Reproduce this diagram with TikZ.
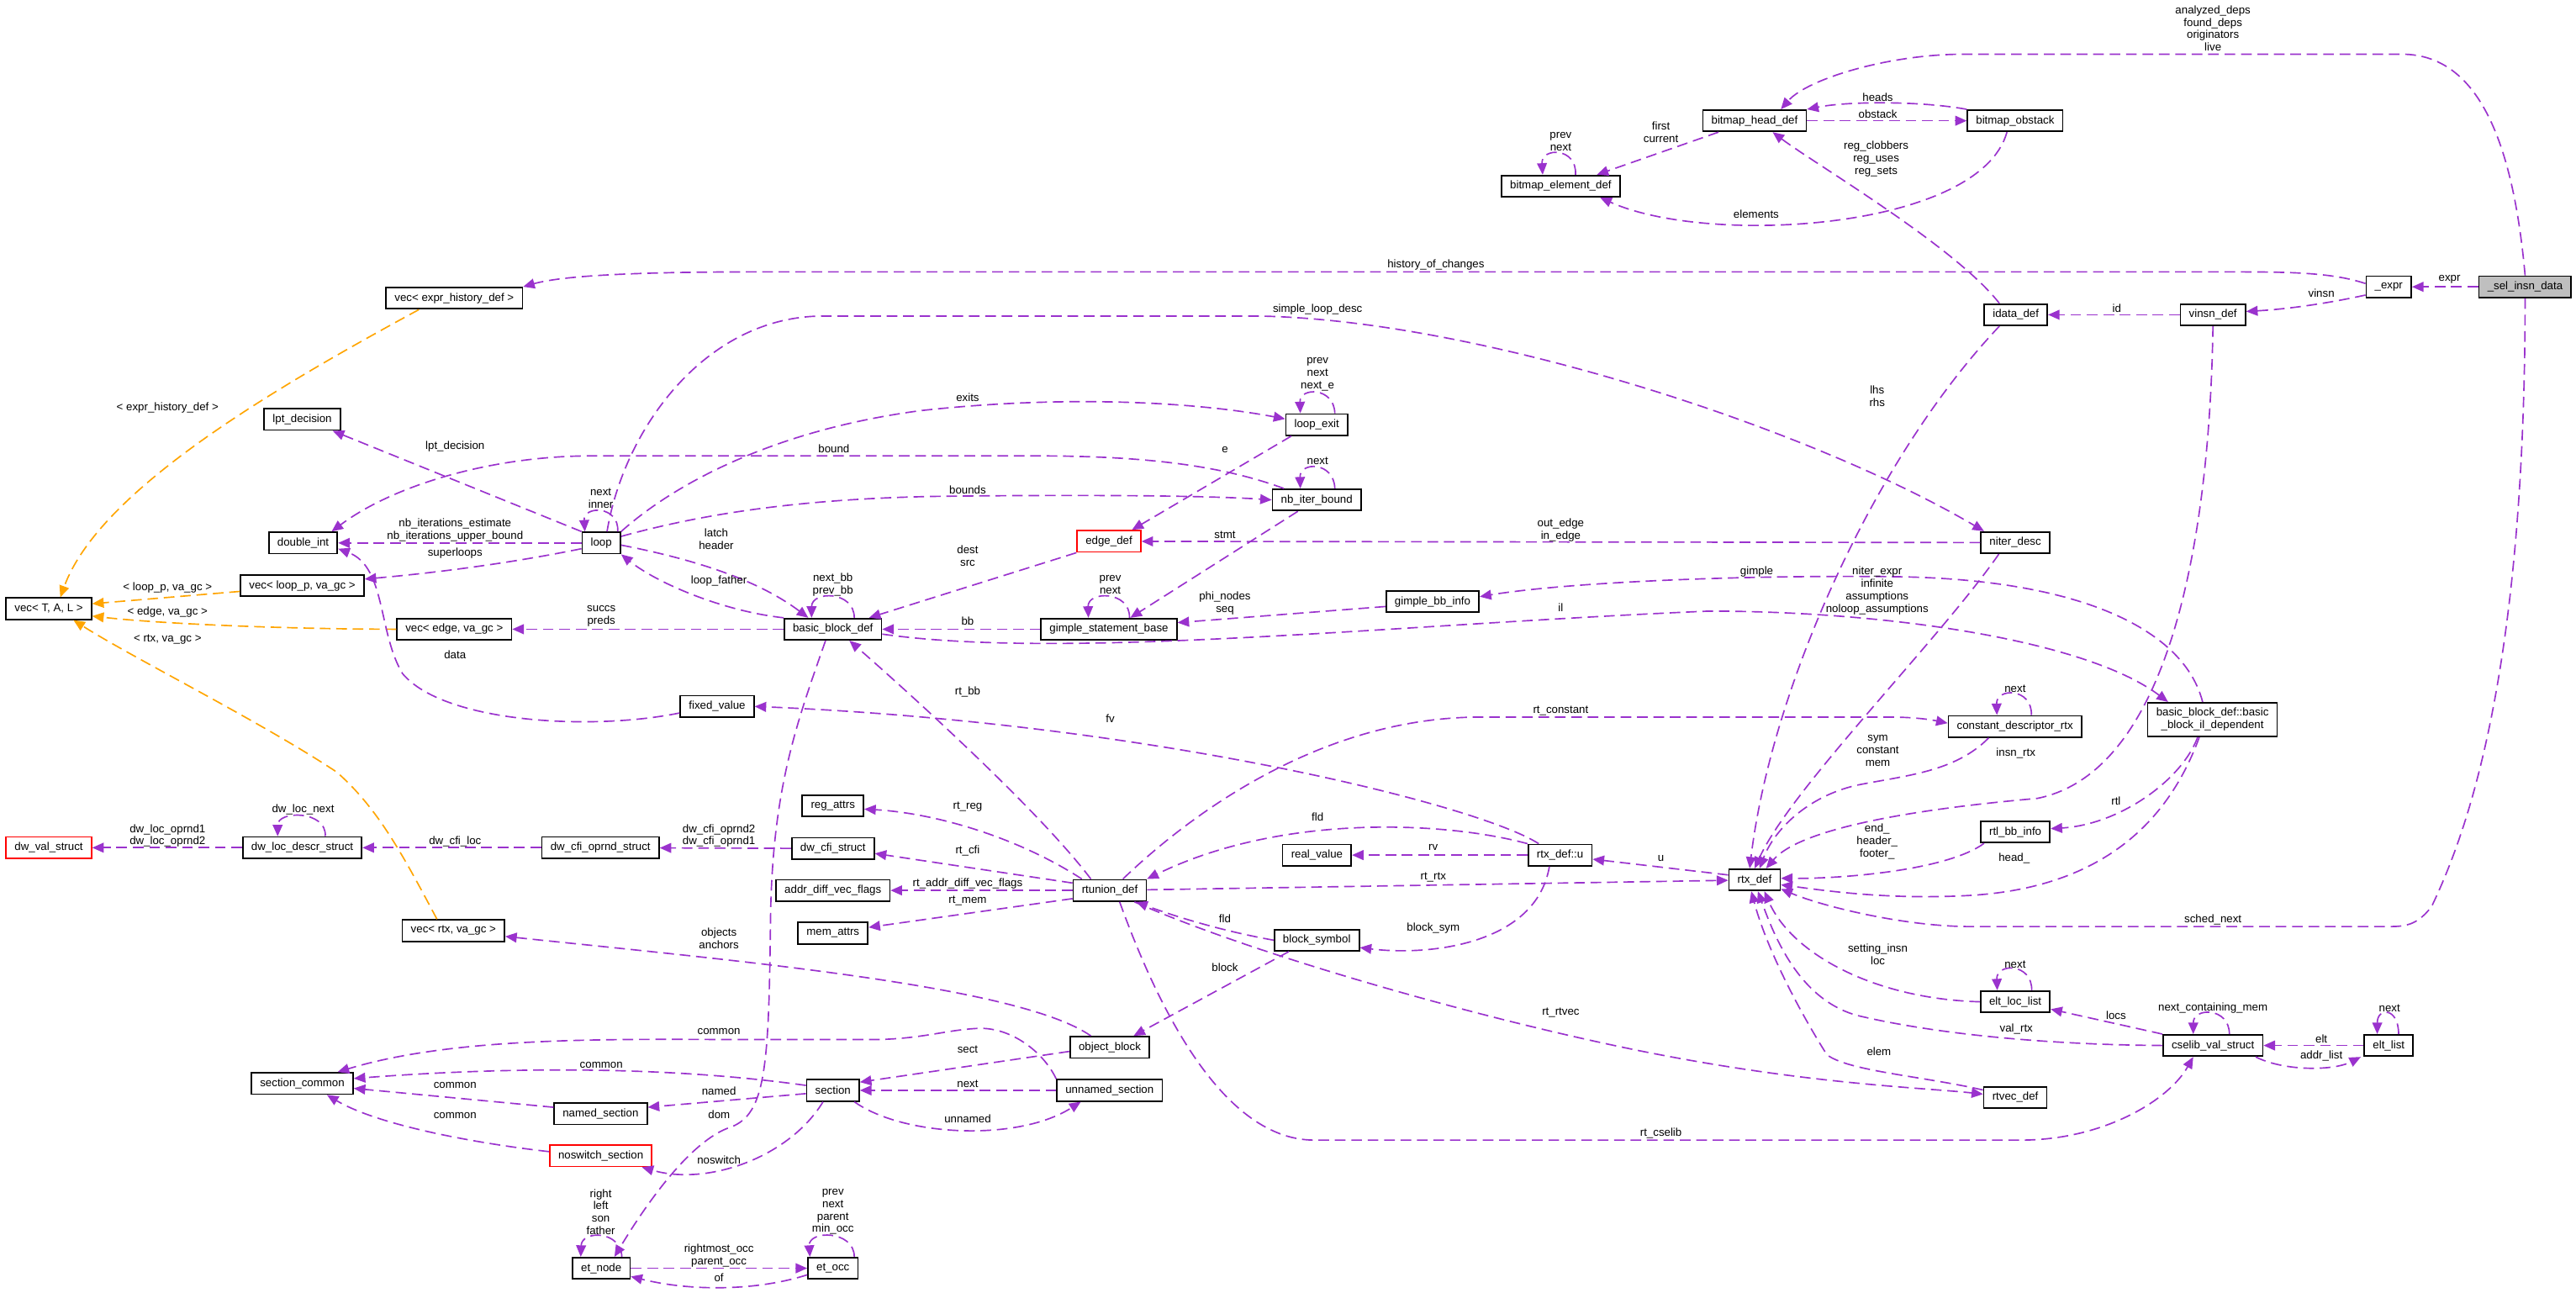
\documentclass[tikz,border=0pt]{standalone}
\usepackage{fontspec}
\setmainfont{Liberation Sans}
\usepackage{xcolor}
\usepackage{tikz}
\usetikzlibrary{arrows.meta, positioning}

\definecolor{relpurple}{RGB}{154,50,205}
\definecolor{tmplorange}{RGB}{255,165,0}
\newcommand{\graphfont}{\fontsize{6.8}{7.6}\selectfont}

\begin{document}
\begin{tikzpicture}[x=1pt, y=-1pt,
        cls/.style={rectangle, draw=black, line width=0.9pt, fill=white, font=\graphfont, inner xsep=5.2pt, inner ysep=2pt, minimum height=13pt, align=center},
        partial/.style={cls, draw=red},
        mainc/.style={cls, fill=gray!50},
        rel/.style={draw=relpurple, line width=0.85pt, dash pattern=on 6.5pt off 3.5pt, -{Triangle[length=7pt, width=6pt]}},
        tmpl/.style={rel, draw=tmplorange},
        lbl/.style={font=\graphfont, align=center, inner sep=0pt}
    ]
        \path[use as bounding box, fill=white] (0,0) rectangle (1568,787);

        % Classes
        \node[mainc] (sel) at (1537,174.6) {\_sel\_insn\_data};
        \node[cls] (expr) at (1454,174.6) {\_expr};
        \node[cls] (vinsn) at (1347,191.6) {vinsn\_def};
        \node[cls] (idata) at (1227,191.6) {idata\_def};
        \node[cls] (bhd) at (1068,73.5) {bitmap\_head\_def};
        \node[cls] (bo) at (1226.6,73.5) {bitmap\_obstack};
        \node[cls] (bed) at (950,113.3) {bitmap\_element\_def};
        \node[cls] (niter) at (1226.7,330.3) {niter\_desc};
        \node[cls] (cdr) at (1226.5,442.2) {constant\_descriptor\_rtx};
        \node[cls, inner ysep=3.3pt] (bbil) at (1346.7,438) {basic\_block\_def::basic\\\_block\_il\_dependent};
        \node[cls] (rtl) at (1226.7,506.4) {rtl\_bb\_info};
        \node[cls] (rtx) at (1068,535.6) {rtx\_def};
        \node[cls] (rtxu) at (949.6,520.5) {rtx\_def::u};
        \node[cls] (ell) at (1226.7,609.8) {elt\_loc\_list};
        \node[cls] (cvs) at (1347,636.4) {cselib\_val\_struct};
        \node[cls] (elt) at (1454,636.4) {elt\_list};
        \node[cls] (rtvec) at (1226.7,668) {rtvec\_def};
        \node[cls] (gbi) at (872,366.2) {gimple\_bb\_info};
        \node[cls] (lexit) at (801.5,258.5) {loop\_exit};
        \node[cls] (nib) at (801.5,304.3) {nb\_iter\_bound};
        \node[cls] (real) at (801.6,520.5) {real\_value};
        \node[cls] (bs) at (801.5,572.3) {block\_symbol};
        \node[partial] (edef) at (675,329.5) {edge\_def};
        \node[cls] (gsb) at (675,383) {gimple\_statement\_base};
        \node[cls] (rtun) at (675.5,542) {rtunion\_def};
        \node[cls] (ob) at (675.5,637.5) {object\_block};
        \node[cls] (uns) at (675.4,663.7) {unnamed\_section};
        \node[cls] (bbd) at (507,383) {basic\_block\_def};
        \node[cls] (reg) at (507,490.5) {reg\_attrs};
        \node[cls] (dcs) at (507,516.5) {dw\_cfi\_struct};
        \node[cls] (adv) at (507,542) {addr\_diff\_vec\_flags};
        \node[cls] (mem) at (507,568) {mem\_attrs};
        \node[cls] (section) at (507,663.7) {section};
        \node[cls] (eto) at (507,772) {et\_occ};
        \node[cls] (fixed) at (436.5,430) {fixed\_value};
        \node[cls] (loop) at (366,330.5) {loop};
        \node[cls] (dcos) at (365.5,516) {dw\_cfi\_oprnd\_struct};
        \node[cls] (named) at (365.6,678) {named\_section};
        \node[partial] (nosw) at (365.7,703.5) {noswitch\_section};
        \node[cls] (etn) at (366,772) {et\_node};
        \node[cls] (vehd) at (276.5,181.5) {vec< expr\_history\_def >};
        \node[cls] (vedge) at (276.5,383) {vec< edge, va\_gc >};
        \node[cls] (vrtx) at (276,566.5) {vec< rtx, va\_gc >};
        \node[cls] (lpt) at (184,255.3) {lpt\_decision};
        \node[cls] (dint) at (184.5,330.5) {double\_int};
        \node[cls] (vloop) at (184,356.5) {vec< loop\_p, va\_gc >};
        \node[cls] (dlds) at (184,516) {dw\_loc\_descr\_struct};
        \node[cls] (sc) at (184,659.5) {section\_common};
        \node[cls] (vtal) at (29.7,370.5) {vec< T, A, L >};
        \node[partial] (dvs) at (29.7,516) {dw\_val\_struct};

        % _sel_insn_data and _expr
        \draw[rel] (sel) -- (expr);
        \draw[rel] (sel.north) .. controls (1530,90) and (1510,33) .. (1462,33) -- (1195,33) .. controls (1150,33) and (1100,48) .. ([xshift=16pt]bhd.north);
        \draw[rel] (sel.south) .. controls (1537,400) and (1505,500) .. (1480,552) .. controls (1472,562) and (1466,564) .. (1455,564) -- (1199,564) .. controls (1160,564) and (1110,552) .. ([yshift=-5.5pt]rtx.east);
        \draw[rel] ([yshift=2pt]expr.west) .. controls (1420,166) and (1395,165.5) .. (1360,165.5) -- (460,165.5) .. controls (400,165.5) and (345,167) .. (vehd.north east);
        \draw[rel] ([yshift=-5pt]expr.west) .. controls (1420,184) and (1395,188) .. ([yshift=2pt]vinsn.east);

        % vinsn_def and idata_def
        \draw[rel] (vinsn) -- (idata);
        \draw[rel] (vinsn.south) .. controls (1345,330) and (1320,470) .. (1240,486) .. controls (1160,493) and (1095,505) .. ([xshift=7pt]rtx.north);
        \draw[rel] ([xshift=-10pt]idata.north) .. controls (1190,150) and (1105,100) .. ([xshift=11pt]bhd.south);
        \draw[rel] ([xshift=-10pt]idata.south) .. controls (1140,280) and (1078,420) .. ([xshift=-3pt]rtx.north);

        % bitmaps
        \draw[rel] (bhd) -- (bo);
        \draw[rel] (bo.north west) .. controls (1170,61.5) and (1125,61.5) .. (bhd.north east);
        \draw[rel] ([xshift=-22pt]bhd.south) -- ([xshift=22pt]bed.north);
        \draw[rel] ([xshift=-5pt]bo.south) .. controls (1205,140) and (1040,150) .. ([xshift=24pt]bed.south);
        \draw[rel] ([xshift=9pt]bed.north) .. controls (960,89.5) and (938,89.5) .. ([xshift=-11pt]bed.north);

        % niter_desc
        \draw[rel] (niter) -- (edef);
        \draw[rel] ([xshift=3.5pt]loop.north) .. controls (380,260) and (430,193) .. (500,192.4) -- (767,192.4) .. controls (900,195) and (1100,260) .. ([xshift=-19pt]niter.north);
        \draw[rel] ([xshift=-10pt]niter.south) .. controls (1180,390) and (1090,480) .. (rtx.north);

        % basic_block_il_dependent
        \draw[rel] ([xshift=-6pt]bbil.north) .. controls (1330,385) and (1270,352) .. (1150,351) .. controls (1050,350) and (950,355) .. ([yshift=3pt]gbi.east);
        \draw[rel] ([yshift=-3pt]bbd.east) .. controls (650,402) and (850,380) .. (1040,372) .. controls (1150,372) and (1270,390) .. ([xshift=-27pt]bbil.north);
        \draw[rel] ([xshift=-9pt]bbil.south) .. controls (1328,475) and (1290,502) .. ([yshift=2pt]rtl.east);
        \draw[rel] ([xshift=-8pt]bbil.south) .. controls (1320,500) and (1280,540) .. (1200,545) .. controls (1150,548) and (1110,542) .. ([yshift=-3pt]rtx.east);

        % constant_descriptor_rtx and rtl_bb_info
        \draw[rel] ([xshift=10pt]cdr.north) .. controls (1237,418.5) and (1215,418.5) .. ([xshift=-11pt]cdr.north);
        \draw[rel] ([xshift=-16pt]cdr.south) .. controls (1190,470) and (1160,472) .. (1130,478) .. controls (1100,485) and (1080,505) .. ([xshift=3pt]rtx.north);
        \draw[rel] ([xshift=8pt]rtun.north) .. controls (720,500) and (800,437) .. (900,436.5) -- (1150,436.5) .. controls (1165,436.5) and (1175,438) .. ([yshift=2pt]cdr.west);
        \draw[rel] ([xshift=-19pt]rtl.south) .. controls (1185,530) and (1120,535) .. ([yshift=1pt]rtx.east);

        % rtx_def
        \draw[rel] ([yshift=3pt]rtx.west) -- ([yshift=-2.5pt]rtxu.east);

        % elt_loc_list, cselib_val_struct, elt_list, rtvec_def
        \draw[rel] ([xshift=10pt]ell.north) .. controls (1237,586) and (1215,586) .. ([xshift=-11pt]ell.north);
        \draw[rel] (ell.west) .. controls (1140,608) and (1090,580) .. ([xshift=6pt]rtx.south);
        \draw[rel] (cvs.north west) -- ([yshift=-4.5pt]ell.east);
        \draw[rel] (cvs.west) .. controls (1250,636) and (1180,630) .. (1130,618) .. controls (1095,608) and (1080,570) .. ([xshift=2pt]rtx.south);
        \draw[rel] ([xshift=10pt]cvs.north) .. controls (1357,613) and (1335,613) .. ([xshift=-12pt]cvs.north);
        \draw[rel] (elt) -- (cvs);
        \draw[rel] ([xshift=26pt]cvs.south) .. controls (1390,652) and (1420,652) .. ([xshift=-17pt]elt.south);
        \draw[rel] ([xshift=6pt]elt.north) .. controls (1460,613) and (1447,613) .. ([xshift=-7pt]elt.north);
        \draw[rel] ([yshift=4.5pt]rtvec.west) .. controls (1170,655) and (1125,652) .. (1112,642) .. controls (1098,620) and (1076,580) .. ([xshift=-2pt]rtx.south);

        % rtunion_def
        \draw[rel] ([xshift=-11.5pt]rtun.north) .. controls (630,490) and (540,410) .. ([xshift=10pt]bbd.south);
        \draw[rel] ([xshift=-17pt]rtun.north) .. controls (620,510) and (570,495) .. ([yshift=-2pt]reg.east);
        \draw[rel] ([yshift=4.5pt]rtun.west) -- ([yshift=-3pt]dcs.east);
        \draw[rel] (rtun) -- (adv);
        \draw[rel] ([yshift=-5pt]rtun.west) -- ([yshift=3.5pt]mem.east);
        \draw[rel] (rtun) -- (rtx);
        \draw[rel] ([xshift=15pt]rtun.south) .. controls (760,580) and (900,620) .. (1000,640) .. controls (1100,660) and (1170,662) .. ([yshift=2pt]rtvec.west);
        \draw[rel] ([xshift=6pt]rtun.south) .. controls (700,600) and (740,694) .. (800,694) -- (1230,694) .. controls (1280,694) and (1320,670) .. ([xshift=-12pt]cvs.south);

        % rtx_def::u
        \draw[rel] ([xshift=-13pt]rtxu.north) .. controls (900,490) and (700,440) .. (fixed.east);
        \draw[rel] (rtxu.north west) .. controls (880,500) and (780,495) .. (rtun.north east);
        \draw[rel] (rtxu) -- (real);
        \draw[rel] ([xshift=-6.5pt]rtxu.south) .. controls (935,575) and (870,582) .. ([yshift=-4.5pt]bs.east);

        % block_symbol, object_block, sections
        \draw[rel] (bs.west) .. controls (740,566) and (710,556) .. ([xshift=16pt]rtun.south);
        \draw[rel] ([xshift=-17pt]bs.south) -- ([xshift=14.5pt]ob.north);
        \draw[rel] ([xshift=-11.5pt]ob.north) .. controls (620,600) and (450,585) .. ([yshift=-3.5pt]vrtx.east);
        \draw[rel] ([yshift=-2.5pt]ob.west) -- ([yshift=5pt]section.east);
        \draw[rel] (uns) -- (section);
        \draw[rel] ([xshift=13pt]section.south) .. controls (550,692) and (620,695) .. ([xshift=-17.5pt]uns.south);
        \draw[rel] (uns.north west) .. controls (635,640) and (615,625) .. (595,626) .. controls (575,627) and (560,632.8) .. (530,632.8) -- (460,632.8) .. controls (380,632.8) and (280,630) .. ([xshift=21.5pt]sc.north);
        \draw[rel] ([yshift=3pt]section.west) .. controls (400,648) and (300,650) .. ([yshift=3pt]sc.east);
        \draw[rel] ([yshift=-2pt]section.west) -- ([yshift=4pt]named.east);
        \draw[rel] ([yshift=4pt]named.west) -- ([yshift=-3pt]sc.east);
        \draw[rel] ([xshift=-6pt]section.south) .. controls (480,705) and (430,722) .. ([xshift=25pt]nosw.south);
        \draw[rel] ([yshift=2.5pt]nosw.west) .. controls (290,696) and (230,685) .. ([xshift=15pt]sc.south);

        % et_node and et_occ
        \draw[rel] ([xshift=-4.5pt]bbd.south) .. controls (485,440) and (470,480) .. (469,560) .. controls (468,650) and (466,678) .. (445,686) .. controls (420,694) and (392,735) .. ([xshift=8pt]etn.north);
        \draw[rel] ([xshift=12.5pt]etn.north) .. controls (378,748.8) and (354,748.8) .. ([xshift=-12.5pt]etn.north);
        \draw[rel] (etn) -- (eto);
        \draw[rel] ([yshift=-4pt]eto.west) .. controls (460,786) and (420,786) .. ([yshift=-5pt]etn.east);
        \draw[rel] ([xshift=13pt]eto.north) .. controls (520,748.7) and (492,748.7) .. ([xshift=-14pt]eto.north);

        % dwarf structs
        \draw[rel] (dcs) -- (dcos);
        \draw[rel] (dcos) -- (dlds);
        \draw[rel] (dlds) -- (dvs);
        \draw[rel] ([xshift=14pt]dlds.north) .. controls (199,493.2) and (169,493.2) .. ([xshift=-15pt]dlds.north);

        % vec templates
        \draw[tmpl] ([xshift=-10pt]vrtx.north) .. controls (245,520) and (230,492) .. (205,470) .. controls (160,440) and (80,400) .. ([xshift=15pt]vtal.south);
        \draw[tmpl] (vedge.west) .. controls (180,383) and (100,380) .. ([yshift=-4.5pt]vtal.east);
        \draw[tmpl] ([yshift=-3.5pt]vloop.west) -- ([yshift=3pt]vtal.east);
        \draw[tmpl] ([xshift=-21.5pt]vehd.south) .. controls (160,240) and (60,300) .. ([xshift=7pt]vtal.north);

        % loop
        \draw[rel] (loop.north west) -- ([xshift=18.5pt]lpt.south);
        \draw[rel] (loop) -- (dint);
        \draw[rel] ([yshift=-3.5pt]loop.west) .. controls (300,345) and (250,350) .. ([yshift=4pt]vloop.east);
        \draw[rel] ([xshift=10pt]loop.north) .. controls (377,307.6) and (355,307.6) .. ([xshift=-10pt]loop.north);
        \draw[rel] (loop.north east) .. controls (410,295) and (470,262) .. (560,250) .. controls (650,240) and (730,245) .. ([yshift=3.5pt]lexit.west);
        \draw[rel] ([yshift=4pt]loop.east) .. controls (420,315) and (480,303) .. (580,302) .. controls (680,301) and (740,302) .. (nib.west);
        \draw[rel] ([yshift=-1.3pt]loop.east) .. controls (420,340) and (460,352) .. ([xshift=-15pt]bbd.north);
        \draw[rel] (bbd.north west) .. controls (440,372) and (400,355) .. (loop.south east);
        \draw[rel] (bbd) -- (vedge);
        \draw[rel] ([yshift=-4pt]fixed.west) .. controls (360,445) and (270,440) .. (245,410) .. controls (230,385) and (235,345) .. ([yshift=-3.5pt]dint.east);

        % nb_iter_bound, loop_exit, edge_def, gimple
        \draw[rel] ([xshift=-20pt]nib.north) .. controls (740,282) and (690,277.5) .. (630,277.5) -- (360,277.5) .. controls (300,277.5) and (240,295) .. ([xshift=-4pt]dint.north east);
        \draw[rel] ([xshift=11pt]nib.north) .. controls (812,280.8) and (791,280.8) .. ([xshift=-10pt]nib.north);
        \draw[rel] ([xshift=11pt]lexit.north) .. controls (812,235.5) and (791,235.5) .. ([xshift=-10pt]lexit.north);
        \draw[rel] ([xshift=-15.5pt]lexit.south) -- ([xshift=14pt]edef.north);
        \draw[rel] ([xshift=-11.5pt]nib.south) -- ([xshift=13pt]gsb.north);
        \draw[rel] (edef.south west) -- ([xshift=22pt]bbd.north);
        \draw[rel] (gsb) -- (bbd);
        \draw[rel] ([yshift=-3pt]gbi.west) -- ([yshift=4pt]gsb.east);
        \draw[rel] ([xshift=12.5pt]gsb.north) .. controls (688,359.5) and (662,359.5) .. ([xshift=-12.5pt]gsb.north);
        \draw[rel] ([xshift=13pt]bbd.north) .. controls (520,359.5) and (494,359.5) .. ([xshift=-13pt]bbd.north);

        % Member labels
        \node[lbl] (t_expr) at (1491,170) {expr};
        \node[lbl] (t_deps) at (1347,17.3) {analyzed\_deps\\found\_deps\\originators\\live};
        \node[lbl] (t_hist) at (874,161) {history\_of\_changes};
        \node[lbl] (t_vinsn) at (1413,178.6) {vinsn};
        \node[lbl] (t_id) at (1288.5,187.6) {id};
        \node[lbl] (t_regs) at (1142,96.9) {reg\_clobbers\\reg\_uses\\reg\_sets};
        \node[lbl] (t_lhs) at (1142.6,241) {lhs\\rhs};
        \node[lbl] (t_insn) at (1227,458.5) {insn\_rtx};
        \node[lbl] (t_first) at (1011,80.5) {first\\current};
        \node[lbl] (t_obst) at (1143,69.6) {obstack};
        \node[lbl] (t_heads) at (1143,59.2) {heads};
        \node[lbl] (t_elems) at (1069,130.5) {elements};
        \node[lbl] (t_bednext) at (950,86.3) {prev\\next};
        \node[lbl] (t_sched) at (1347,560) {sched\_next};
        \node[lbl] (t_edges) at (950,322.5) {out\_edge\\in\_edge};
        \node[lbl] (t_sld) at (802,188.5) {simple\_loop\_desc};
        \node[lbl] (t_niter) at (1142.6,359.6) {niter\_expr\\infinite\\assumptions\\noloop\_assumptions};
        \node[lbl] (t_gimple) at (1069.3,348) {gimple};
        \node[lbl] (t_il) at (950,369.7) {il};
        \node[lbl] (t_rtl) at (1288,487.4) {rtl};
        \node[lbl] (t_head) at (1226,522.5) {head\_};
        \node[lbl] (t_end) at (1142.6,512.3) {end\_\\header\_\\footer\_};
        \node[lbl] (t_cdrnext) at (1226.6,419) {next};
        \node[lbl] (t_sym) at (1143,457) {sym\\constant\\mem};
        \node[lbl] (t_rtconst) at (950,432.5) {rt\_constant};
        \node[lbl] (t_rtbb) at (589,421.4) {rt\_bb};
        \node[lbl] (t_dom) at (437.7,678.6) {dom};
        \node[lbl] (t_nosw) at (437.6,706) {noswitch};
        \node[lbl] (t_named) at (437.6,664) {named};
        \node[lbl] (t_common1) at (366,648.5) {common};
        \node[lbl] (t_common2) at (277,660.5) {common};
        \node[lbl] (t_common3) at (277,679) {common};
        \node[lbl] (t_common4) at (437.6,627.7) {common};
        \node[lbl] (t_next) at (589,659.6) {next};
        \node[lbl] (t_unnamed) at (589,681) {unnamed};
        \node[lbl] (t_sect) at (589,639) {sect};
        \node[lbl] (t_block) at (745.6,589) {block};
        \node[lbl] (t_objects) at (437.6,571.2) {objects\\anchors};
        \node[lbl] (t_fv) at (675.8,437.5) {fv};
        \node[lbl] (t_fld1) at (802,497.5) {fld};
        \node[lbl] (t_rv) at (872.4,516) {rv};
        \node[lbl] (t_rtrtx) at (872.4,534) {rt\_rtx};
        \node[lbl] (t_u) at (1011,522.5) {u};
        \node[lbl] (t_blocksym) at (872.4,565) {block\_sym};
        \node[lbl] (t_fld2) at (745.6,559) {fld};
        \node[lbl] (t_rtvec) at (950,616.6) {rt\_rtvec};
        \node[lbl] (t_elem) at (1143.7,640) {elem};
        \node[lbl] (t_ellnext) at (1226.6,587) {next};
        \node[lbl] (t_setting) at (1143,580.8) {setting\_insn\\loc};
        \node[lbl] (t_locs) at (1288,618) {locs};
        \node[lbl] (t_valrtx) at (1227.3,626.3) {val\_rtx};
        \node[lbl] (t_ncm) at (1347,613.5) {next\_containing\_mem};
        \node[lbl] (t_elt) at (1413,632.4) {elt};
        \node[lbl] (t_addr) at (1413,643) {addr\_list};
        \node[lbl] (t_eltnext) at (1454.5,613.5) {next};
        \node[lbl] (t_cselib) at (1011,689.6) {rt\_cselib};
        \node[lbl] (t_rtreg) at (589,491) {rt\_reg};
        \node[lbl] (t_rtcfi) at (589,517.8) {rt\_cfi};
        \node[lbl] (t_rtadv) at (589,538) {rt\_addr\_diff\_vec\_flags};
        \node[lbl] (t_rtmem) at (589,548.2) {rt\_mem};
        \node[lbl] (t_cfiop) at (437.6,508.7) {dw\_cfi\_oprnd2\\dw\_cfi\_oprnd1};
        \node[lbl] (t_cfiloc) at (277,512.3) {dw\_cfi\_loc};
        \node[lbl] (t_locop) at (102,508.7) {dw\_loc\_oprnd1\\dw\_loc\_oprnd2};
        \node[lbl] (t_locnext) at (184.5,493) {dw\_loc\_next};
        \node[lbl] (t_vrtx) at (102,389) {< rtx, va\_gc >};
        \node[lbl] (t_vedge) at (102,372.6) {< edge, va\_gc >};
        \node[lbl] (t_vloop) at (102,357.7) {< loop\_p, va\_gc >};
        \node[lbl] (t_vehd) at (102,248) {< expr\_history\_def >};
        \node[lbl] (t_lpt) at (277,272) {lpt\_decision};
        \node[lbl] (t_nbit) at (277,322.8) {nb\_iterations\_estimate\\nb\_iterations\_upper\_bound};
        \node[lbl] (t_super) at (277,337) {superloops};
        \node[lbl] (t_loopnext) at (365.7,303.5) {next\\inner};
        \node[lbl] (t_exits) at (589,241.9) {exits};
        \node[lbl] (t_bound) at (507.6,273.3) {bound};
        \node[lbl] (t_bounds) at (589,298) {bounds};
        \node[lbl] (t_nibnext) at (802,280.5) {next};
        \node[lbl] (t_lexitnext) at (802,227.9) {prev\\next\\next\_e};
        \node[lbl] (t_e) at (745.6,274) {e};
        \node[lbl] (t_stmt) at (745.6,325.4) {stmt};
        \node[lbl] (t_dest) at (589,338.5) {dest\\src};
        \node[lbl] (t_bb) at (589,378) {bb};
        \node[lbl] (t_phi) at (745.6,367.3) {phi\_nodes\\seq};
        \node[lbl] (t_gsbnext) at (675.8,355.8) {prev\\next};
        \node[lbl] (t_bbnext) at (507,355.8) {next\_bb\\prev\_bb};
        \node[lbl] (t_latch) at (436,328.2) {latch\\header};
        \node[lbl] (t_father) at (437.6,353.6) {loop\_father};
        \node[lbl] (t_succs) at (366,374.9) {succs\\preds};
        \node[lbl] (t_data) at (277,398.6) {data};
        \node[lbl] (t_etnloop) at (365.7,737.7) {right\\left\\son\\father};
        \node[lbl] (t_occ) at (437.6,764.5) {rightmost\_occ\\parent\_occ};
        \node[lbl] (t_of) at (437.6,777.8) {of};
        \node[lbl] (t_etoloop) at (507,737.6) {prev\\next\\parent\\min\_occ};

    \end{tikzpicture}
\end{document}
